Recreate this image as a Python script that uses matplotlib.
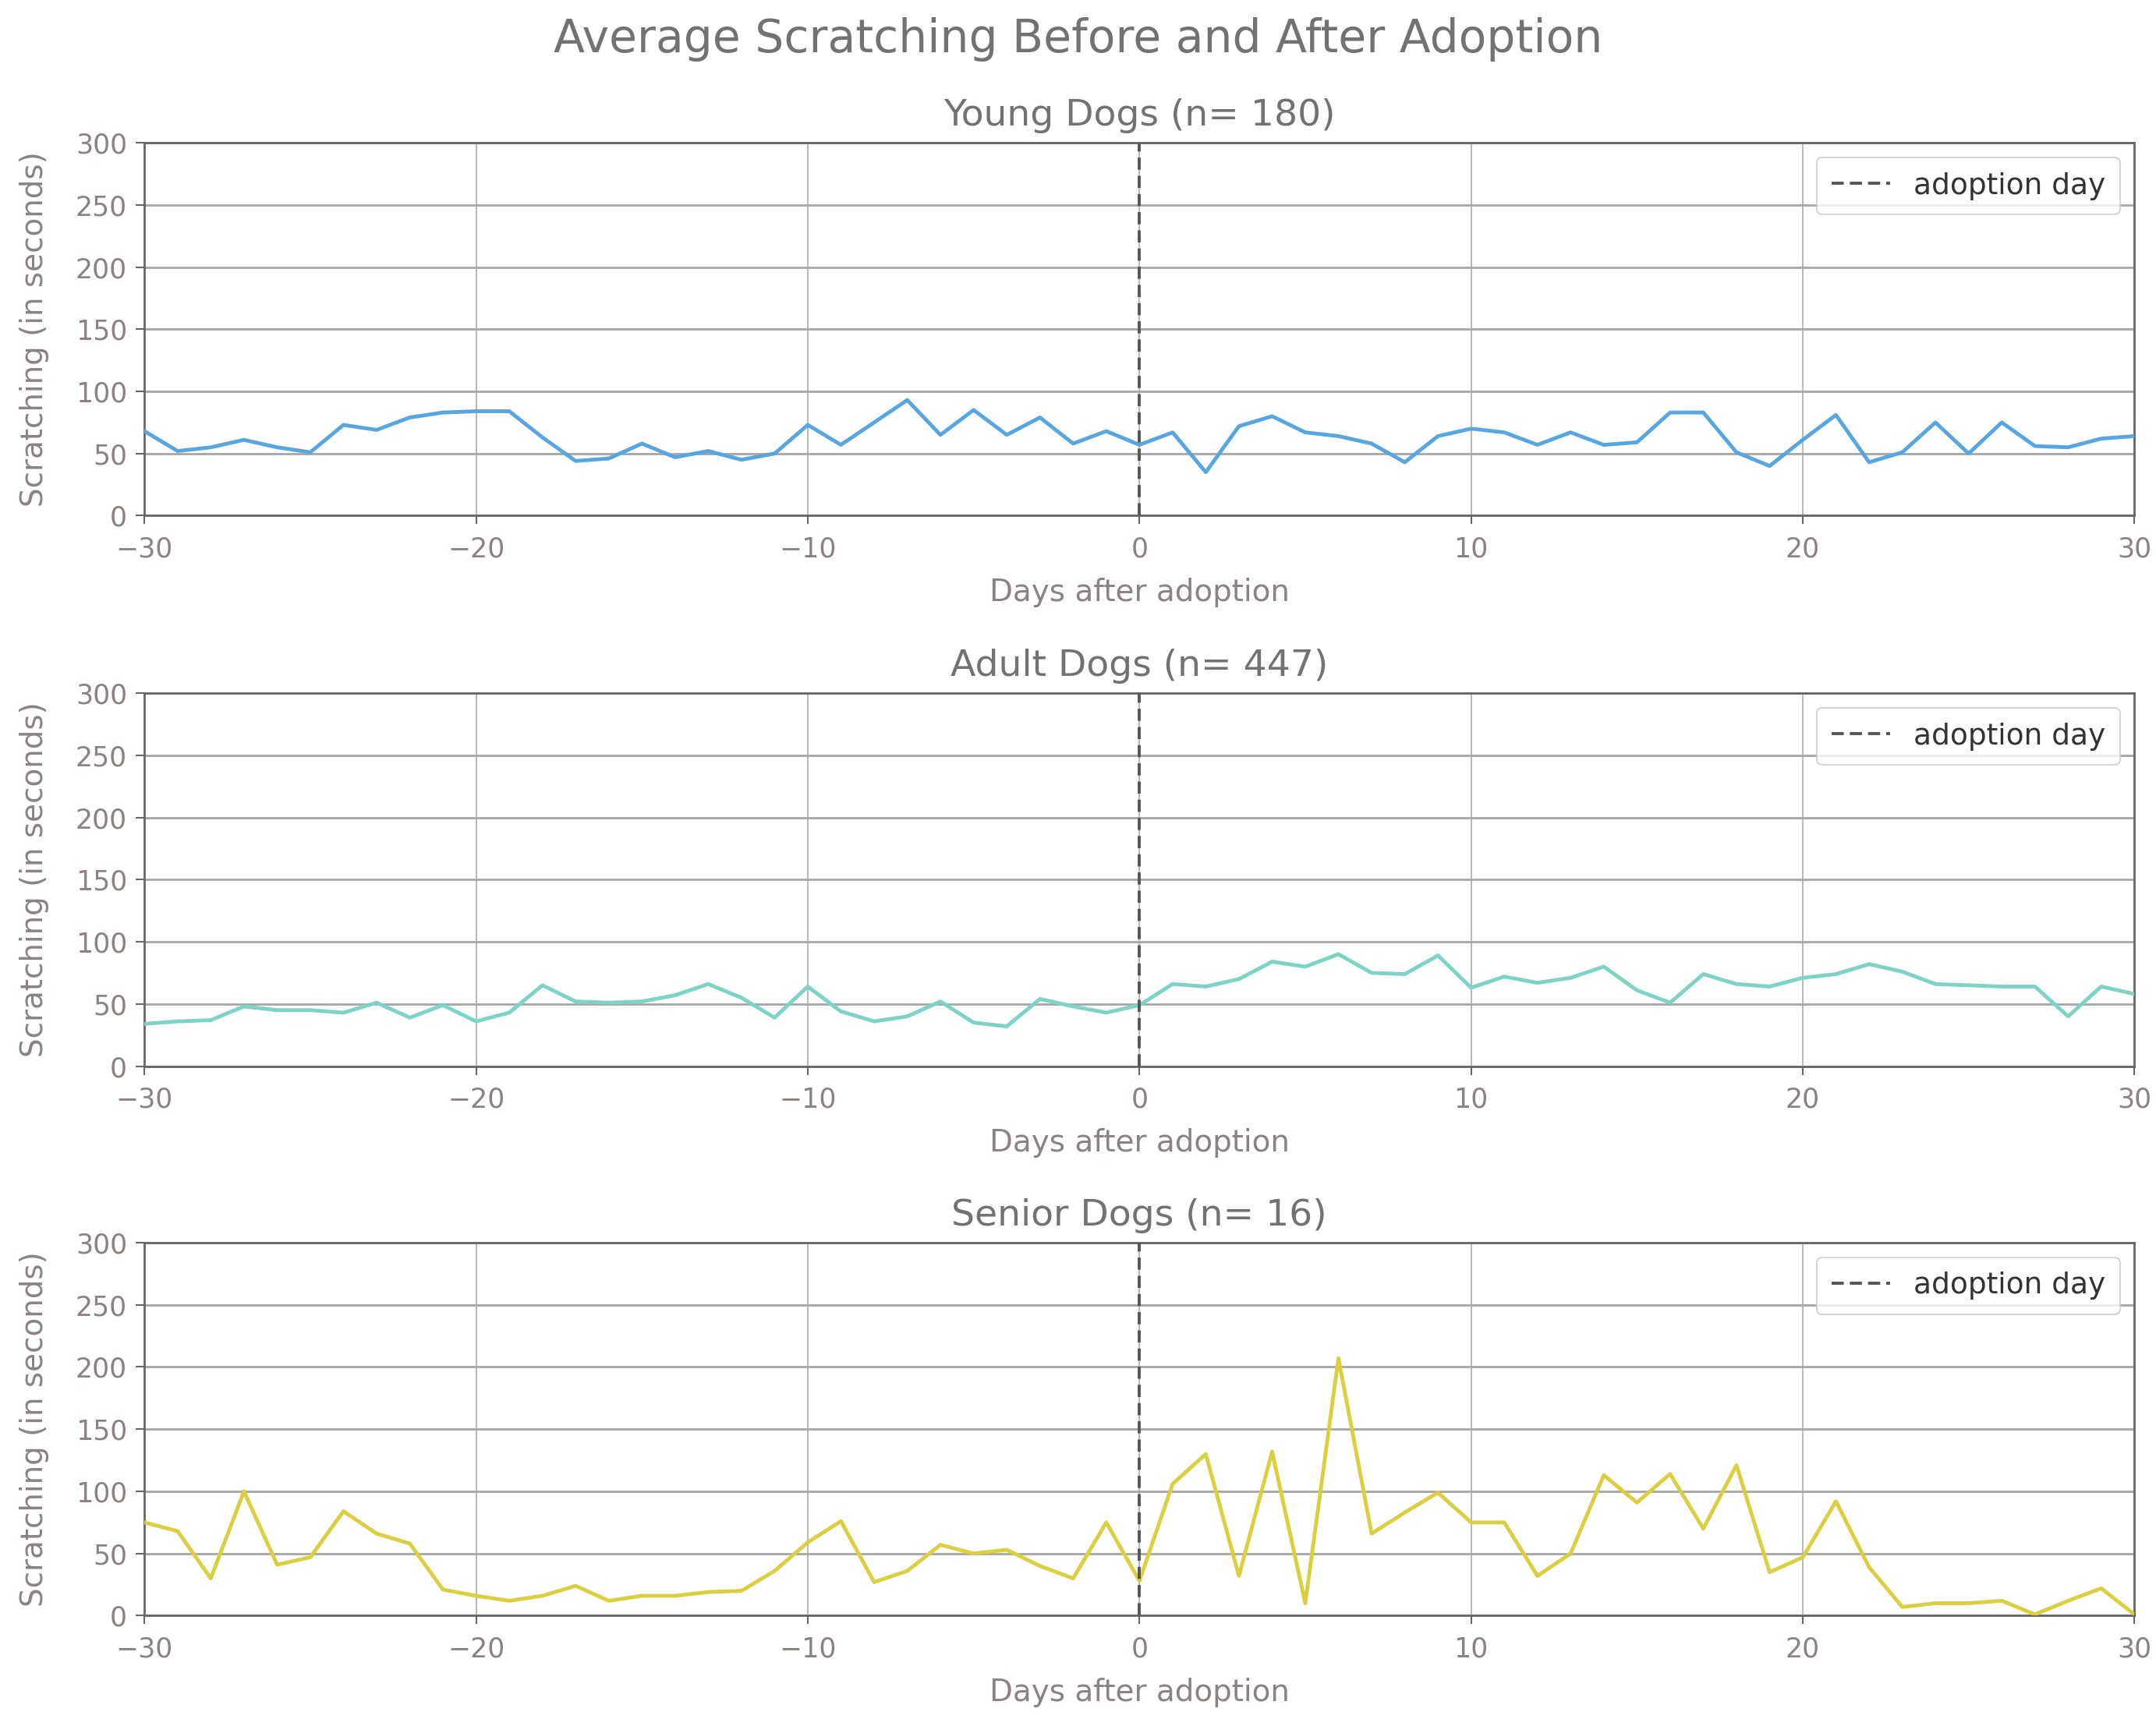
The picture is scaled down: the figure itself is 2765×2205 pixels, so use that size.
import matplotlib
matplotlib.use("Agg")
import matplotlib.pyplot as plt
import numpy as np

days = list(range(-30, 31))

young = [68, 52, 55, 61, 55, 51, 73, 69, 79, 83, 84, 84, 63, 44, 46, 58, 47, 52, 45, 50,
         73, 57, 75, 93, 65, 85, 65, 79, 58, 68,
         57,
         67, 35, 72, 80, 67, 64, 58, 43, 64, 70, 67, 57, 67, 57, 59, 83, 83, 51, 40, 61,
         81, 43, 51, 75, 50, 75, 56, 55, 62, 64]

adult = [34, 36, 37, 48, 45, 45, 43, 51, 39, 49, 36, 43, 65, 52, 51, 52, 57, 66, 55, 39,
         64, 44, 36, 40, 52, 35, 32, 54, 48, 43,
         49,
         66, 64, 70, 84, 80, 90, 75, 74, 89, 63, 72, 67, 71, 80, 61, 51, 74, 66, 64, 71,
         74, 82, 76, 66, 65, 64, 64, 40, 64, 58]

senior = [75, 68, 30, 100, 41, 47, 84, 66, 58, 21, 16, 12, 16, 24, 12, 16, 16, 19, 20, 36,
          59, 76, 27, 36, 57, 50, 53, 40, 30, 75,
          28,
          106, 130, 32, 132, 10, 207, 66, 83, 99, 75, 75, 32, 50, 113, 91, 114, 70, 121, 35, 47,
          92, 39, 7, 10, 10, 12, 1, 12, 22, 1]

groups = ["Young Dogs (n= 180)", "Adult Dogs (n= 447)", "Senior Dogs (n= 16)"]
series = [young, adult, senior]
colors = ["#58a6e0", "#7dd3c6", "#d9cf3f"]

main_title = "Average Scratching Before and After Adoption"
xlabel = "Days after adoption"
ylabel = "Scratching (in seconds)"
legend_label = "adoption day"

plt.rcParams['font.family'] = ['DejaVu Sans']

fig = plt.figure(figsize=(27.65, 22.05), dpi=100)
fig.patch.set_facecolor("white")

tick_color = "#8c8282"
text_gray = "#727272"

tops = [0.917, 0.5968, 0.2771]
height = 0.217
left = 0.067
width = 0.990 - 0.067

for i, (name, vals, col) in enumerate(zip(groups, series, colors)):
    ax = fig.add_axes([left, tops[i] - height, width, height])
    ax.set_facecolor("white")
    ax.xaxis.grid(True, color="#b8b8b8", linewidth=1.4)
    ax.yaxis.grid(True, color="#a6a6a6", linewidth=2.0)
    ax.set_axisbelow(True)
    ax.plot(days, vals, color=col, linewidth=3.5, zorder=3)
    ax.axvline(0, color="#555555", linestyle=(0, (4, 2)), linewidth=2.8,
               label=legend_label, zorder=4)
    ax.set_xlim(-30, 30)
    ax.set_ylim(0, 300)
    ax.set_xticks([-30, -20, -10, 0, 10, 20, 30])
    ax.set_yticks([0, 50, 100, 150, 200, 250, 300])
    ax.tick_params(axis="both", labelsize=25, colors=tick_color, length=8, width=1.5,
                   color="#666666")
    ax.tick_params(axis="x", pad=11)
    ax.tick_params(axis="y", pad=8)
    for sp in ax.spines.values():
        sp.set_color("#666666")
        sp.set_linewidth(2.0)
    ax.set_title(name, fontsize=34, color=text_gray, pad=16)
    ax.set_xlabel(xlabel, fontsize=28, color=tick_color, labelpad=14)
    ax.set_ylabel(ylabel, fontsize=28, color=tick_color, labelpad=24)
    leg = ax.legend(loc="upper right", fontsize=27, frameon=True, fancybox=True,
                    borderpad=0.5, handlelength=2.0)
    leg.get_frame().set_edgecolor("#cccccc")
    leg.get_frame().set_linewidth(1.5)
    for t in leg.get_texts():
        t.set_color("#333333")

fig.suptitle(main_title, fontsize=42, color=text_gray, y=0.99)

fig.savefig("out.png", dpi=100, facecolor="white")
